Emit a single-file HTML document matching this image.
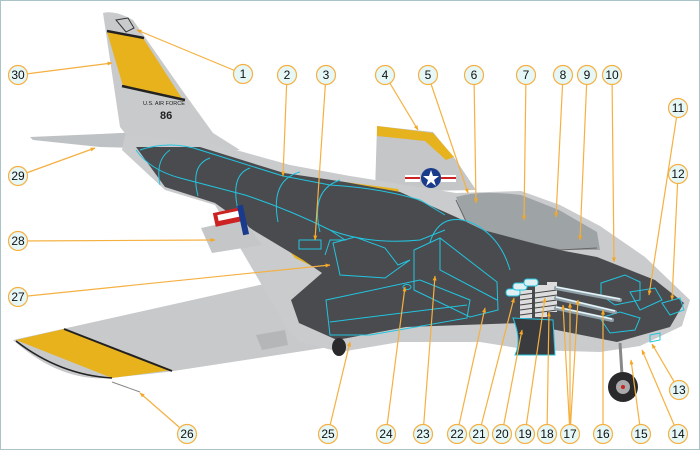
<!DOCTYPE html>
<html><head><meta charset="utf-8"><style>
html,body{margin:0;padding:0;background:#fff}
svg{display:block}
text{font-family:"Liberation Sans",sans-serif}
</style></head><body>
<svg width="700" height="450" viewBox="0 0 700 450" xmlns="http://www.w3.org/2000/svg">
<defs>
<marker id="ar" viewBox="0 0 10 10" refX="9" refY="5" markerWidth="5" markerHeight="5" orient="auto" markerUnits="userSpaceOnUse">
<path d="M0,1 L10,5 L0,9 Z" fill="#f5a623"/>
</marker>
</defs>
<rect x="0.5" y="0.5" width="699" height="449" fill="#fff" stroke="#a9c3c6" stroke-width="1"/>
<polygon points="377,126 433,132 456,160 476,190 375,192" fill="#c4c6c8"/>
<polygon points="377,126 433,133 454,157 446,160 425,141 377,136" fill="#e6b21e"/>
<polygon points="30,137 100,134 140,132 215,140 220,150 100,147 33,140" fill="#bfc2c4"/>
<path d="M103,13 Q115,10 133,20 L182,90 L213,133 L240,150 L140,152 L120,127 Z" fill="#c8cacc"/>
<polygon points="107,32 143,38 183,100 123,86" fill="#e8b21d"/>
<line x1="107" y1="31" x2="144" y2="38" stroke="#222" stroke-width="2.5"/>
<line x1="122" y1="86" x2="185" y2="100" stroke="#222" stroke-width="2.5"/>
<path d="M116,20 L128,18 L134,28 L126,32 Z" fill="none" stroke="#333" stroke-width="1"/>
<text x="143" y="105" font-size="5.5" fill="#222">U.S. AIR FORCE</text>
<text x="160" y="119" font-size="11" font-weight="bold" fill="#222">86</text>
<path d="M13,340 L300,276 L325,285 L323,348 L167,372 L110,378 Q60,382 13,340 Z" fill="#c7c9cb"/>
<polygon points="16,340 64,329 172,370 112,378 Q60,378 16,341" fill="#e8b21d"/>
<line x1="64" y1="329" x2="172" y2="371" stroke="#222" stroke-width="2"/>
<path d="M16,341 Q60,375 112,378" fill="none" stroke="#222" stroke-width="1.5"/>
<polygon points="256,335 285,330 288,345 262,350" fill="#b4b6b8"/>
<polygon points="125,135 200,140 290,165 350,176 456,193 521,191 560,205 600,226 645,257 690,300 682,326 640,346 600,352 530,350 480,342 400,342 340,352 300,342 288,330 215,205 165,190 122,150" fill="#c9cbcd"/>
<path d="M456,197 Q480,190 521,195 L559,210 L597,232 L600,250 L560,250 L470,232 Z" fill="#9ea3a6"/>
<path d="M456,200 L470,230 L560,250 L597,248" fill="none" stroke="#666" stroke-width="1"/>
<polygon points="345,182 398,189 400,196 348,189" fill="#e6b21e"/>
<polygon points="283,243 300,250 326,266 320,270 295,258" fill="#e6b21e"/>
<path d="M136,147 L200,147 L284,173 L345,182 L400,192 L456,217 L483,230 L559,250 L597,257 L655,280 L684,303 L670,327 L617,342 L521,323 L406,327 L337,340 L299,323 L291,300 L322,273 L303,260 L253,230 L215,203 L165,187 Z" fill="#4a4b4e"/>
<g fill="none" stroke="#22c4e0" stroke-width="1">
<path d="M136,150 Q150,170 180,178 L245,195 Q290,210 330,230 Q370,245 420,240 L445,230"/>
<path d="M140,150 Q170,140 200,150 L283,176 L330,185 Q380,188 420,200 L445,215"/>
<path d="M160,185 Q155,160 170,150 M198,196 Q190,165 210,158 M238,210 Q230,175 250,168 M278,222 Q270,180 300,172 M320,232 Q310,190 340,180"/>
<path d="M330,230 L345,240 L330,240 L325,255"/>
<path d="M430,242 Q440,212 470,222 Q500,235 510,270"/>
<rect x="299" y="240" width="22" height="9"/>
<path d="M333,243 L355,237 L385,248 L398,265 L410,260 L385,278 L340,275 Z"/>
<path d="M414,250 L440,238 L497,282 L498,310 L470,317 L414,290 Z M440,238 L440,270 L497,300"/>
<path d="M326,300 L420,280 L470,300 L467,318 L370,335 L330,335 Z M330,322 L467,305"/>
<path d="M601,283 L625,275 L640,282 L640,300 L615,305 L601,295 Z M630,292 L655,288 L662,300 L640,310 Z M662,303 L680,298 L684,310 L670,315 Z"/>
<path d="M600,318 L620,312 L640,318 L635,330 L610,333 Z"/>
<path d="M650,335 L660,333 L660,340 L650,342 Z"/>
</g>
<ellipse cx="407" cy="287" rx="4" ry="2.5" fill="none" stroke="#22c4e0"/>
<path d="M513,318 L553,320 L555,355 L515,355 Q522,340 513,318 Z" fill="#3a3b3e" stroke="#22c4e0" stroke-width="1"/>
<g fill="#ddd">
<rect x="520" y="290" width="12" height="28"/><rect x="535" y="285" width="12" height="32"/><rect x="547" y="282" width="10" height="30"/>
</g>
<g stroke="#444" stroke-width="1">
<line x1="520" y1="295" x2="557" y2="290"/><line x1="520" y1="300" x2="557" y2="295"/><line x1="520" y1="305" x2="557" y2="300"/><line x1="520" y1="310" x2="557" y2="305"/><line x1="520" y1="315" x2="557" y2="310"/>
</g>
<g stroke="#8fa0a8" stroke-width="4" stroke-linecap="round">
<line x1="556" y1="288" x2="620" y2="300"/><line x1="556" y1="298" x2="615" y2="312"/><line x1="556" y1="308" x2="612" y2="320"/>
</g>
<g stroke="#e6f6fa" stroke-width="1.5">
<line x1="556" y1="287" x2="620" y2="299"/><line x1="556" y1="297" x2="615" y2="311"/><line x1="556" y1="307" x2="612" y2="319"/>
</g>
<g fill="#dfeff2" stroke="#22c4e0" stroke-width="1">
<rect x="506" y="289" width="14" height="7" rx="3"/><rect x="513" y="283" width="14" height="7" rx="3"/><rect x="524" y="279" width="14" height="7" rx="3"/>
</g>
<circle cx="431" cy="178" r="10" fill="#1a3a8c"/>
<polygon points="431,170 433,176 439,176 434,180 436,186 431,182 426,186 428,180 423,176 429,176" fill="#fff"/>
<rect x="441" y="175" width="15" height="7" fill="#fff"/><rect x="441" y="177" width="15" height="2" fill="#c22"/>
<rect x="405" y="175" width="15" height="7" fill="#fff"/><rect x="405" y="177" width="15" height="2" fill="#c22"/>
<polygon points="201,228 243,219 262,245 212,253" fill="#c4c6c8"/>
<rect x="214" y="210" width="28" height="14" fill="#c22" transform="rotate(-12 228 217)"/>
<rect x="218" y="213" width="22" height="6" fill="#fff" transform="rotate(-12 228 217)"/>
<rect x="240" y="205" width="6" height="30" fill="#1a3a8c" transform="rotate(-12 243 220)"/>
<line x1="620" y1="343" x2="622" y2="375" stroke="#888" stroke-width="3"/>
<circle cx="623" cy="387" r="15" fill="#2a2a2c"/><circle cx="623" cy="387" r="7" fill="#aaa"/><circle cx="623" cy="387" r="2" fill="#c22"/>
<ellipse cx="339" cy="347" rx="7" ry="9" fill="#2a2a2c"/>
<line x1="112" y1="382" x2="140" y2="392" stroke="#888" stroke-width="1"/>
<g stroke="#f5b041" stroke-width="1.2" fill="none" marker-end="url(#ar)">
<line x1="243" y1="74" x2="137" y2="30"/><line x1="287" y1="75" x2="283" y2="176"/><line x1="326" y1="75" x2="315" y2="240"/>
<line x1="385" y1="75" x2="418" y2="130"/><line x1="428" y1="75" x2="468" y2="193"/><line x1="474" y1="75" x2="476" y2="203"/>
<line x1="526" y1="75" x2="524" y2="220"/><line x1="563" y1="75" x2="556" y2="217"/><line x1="587" y1="75" x2="580" y2="240"/>
<line x1="612" y1="75" x2="614" y2="262"/><line x1="678" y1="108" x2="649" y2="295"/><line x1="678" y1="174" x2="672" y2="300"/>
<line x1="679" y1="390" x2="652" y2="344"/><line x1="678" y1="434" x2="642" y2="350"/><line x1="641" y1="434" x2="631" y2="360"/>
<line x1="603" y1="434" x2="603" y2="310"/><line x1="570" y1="434" x2="563" y2="305"/><line x1="570" y1="434" x2="570" y2="303"/><line x1="570" y1="434" x2="578" y2="300"/>
<line x1="547" y1="434" x2="549" y2="312"/><line x1="525" y1="434" x2="545" y2="298"/><line x1="502" y1="434" x2="522" y2="330"/>
<line x1="479" y1="434" x2="514" y2="298"/><line x1="457" y1="434" x2="485" y2="308"/><line x1="423" y1="434" x2="435" y2="276"/>
<line x1="386" y1="434" x2="405" y2="287"/><line x1="328" y1="434" x2="350" y2="342"/><line x1="187" y1="434" x2="140" y2="393"/>
<line x1="18" y1="297" x2="330" y2="265"/><line x1="18" y1="241" x2="215" y2="240"/><line x1="18" y1="176" x2="95" y2="148"/>
<line x1="18" y1="75" x2="112" y2="63"/>
</g>
<g fill="#e6f7f8" stroke="#f5b041" stroke-width="1.2">
<circle cx="243" cy="74" r="9.5"/><circle cx="287" cy="75" r="9.5"/><circle cx="326" cy="75" r="9.5"/><circle cx="385" cy="75" r="9.5"/>
<circle cx="428" cy="75" r="9.5"/><circle cx="474" cy="75" r="9.5"/><circle cx="526" cy="75" r="9.5"/><circle cx="563" cy="75" r="9.5"/>
<circle cx="587" cy="75" r="9.5"/><circle cx="612" cy="75" r="9.5"/><circle cx="678" cy="108" r="9.5"/><circle cx="678" cy="174" r="9.5"/>
<circle cx="679" cy="390" r="9.5"/><circle cx="678" cy="434" r="9.5"/><circle cx="641" cy="434" r="9.5"/><circle cx="603" cy="434" r="9.5"/>
<circle cx="570" cy="434" r="9.5"/><circle cx="547" cy="434" r="9.5"/><circle cx="525" cy="434" r="9.5"/><circle cx="502" cy="434" r="9.5"/>
<circle cx="479" cy="434" r="9.5"/><circle cx="457" cy="434" r="9.5"/><circle cx="423" cy="434" r="9.5"/><circle cx="386" cy="434" r="9.5"/>
<circle cx="328" cy="434" r="9.5"/><circle cx="187" cy="434" r="9.5"/><circle cx="18" cy="297" r="9.5"/><circle cx="18" cy="241" r="9.5"/>
<circle cx="18" cy="176" r="9.5"/><circle cx="18" cy="75" r="9.5"/>
</g>
<g font-size="12" fill="#111" text-anchor="middle">
<text x="243" y="78">1</text><text x="287" y="79">2</text><text x="326" y="79">3</text><text x="385" y="79">4</text>
<text x="428" y="79">5</text><text x="474" y="79">6</text><text x="526" y="79">7</text><text x="563" y="79">8</text>
<text x="587" y="79">9</text><text x="612" y="79">10</text><text x="678" y="112">11</text><text x="678" y="178">12</text>
<text x="679" y="394">13</text><text x="678" y="438">14</text><text x="641" y="438">15</text><text x="603" y="438">16</text>
<text x="570" y="438">17</text><text x="547" y="438">18</text><text x="525" y="438">19</text><text x="502" y="438">20</text>
<text x="479" y="438">21</text><text x="457" y="438">22</text><text x="423" y="438">23</text><text x="386" y="438">24</text>
<text x="328" y="438">25</text><text x="187" y="438">26</text><text x="18" y="301">27</text><text x="18" y="245">28</text>
<text x="18" y="180">29</text><text x="18" y="79">30</text>
</g>
</svg>
</body></html>
